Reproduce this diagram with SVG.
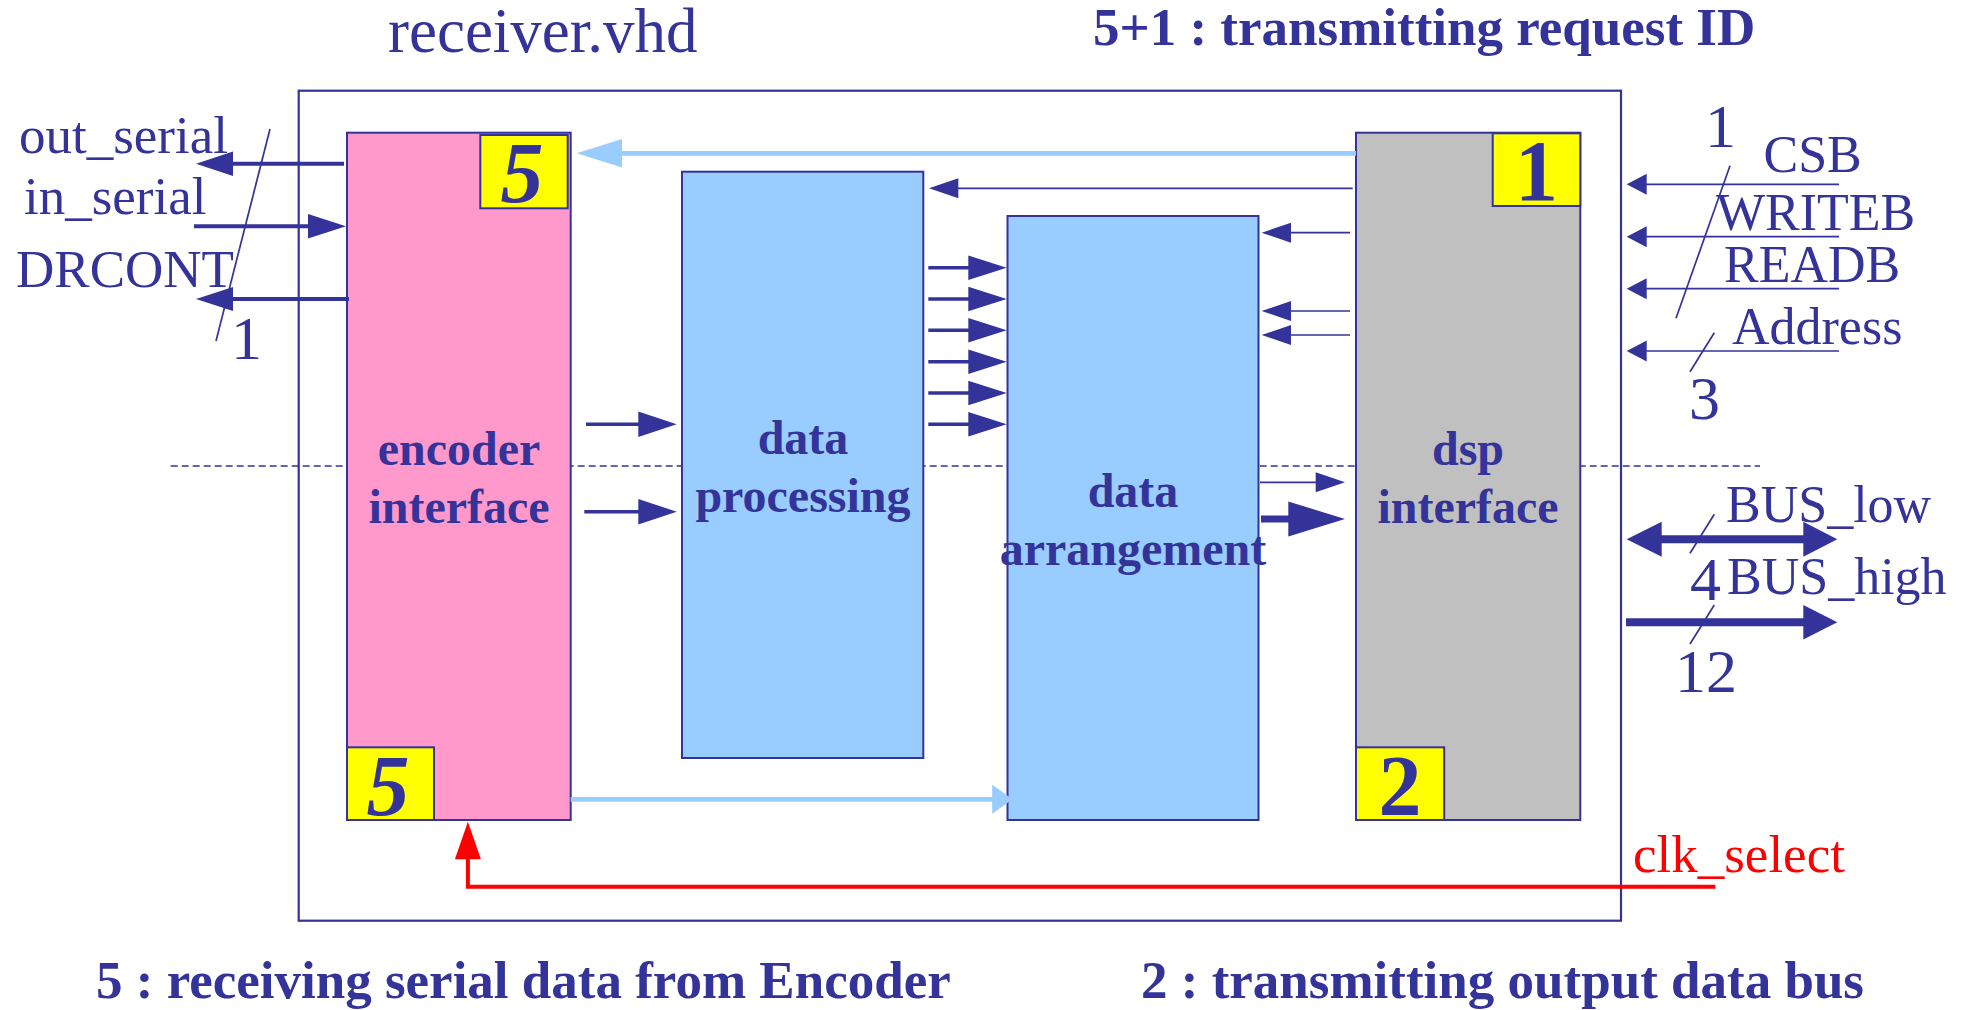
<svg xmlns="http://www.w3.org/2000/svg" width="1975" height="1010" viewBox="0 0 1975 1010">
<style>
.bx{stroke:#333399;stroke-width:2}
.pink{fill:#FF99CC}.lb{fill:#99CCFF}.gray{fill:#C0C0C0}.yel{fill:#FFFF00}
.t{font-family:"Liberation Serif","Times New Roman",serif;fill:#333399}
.lbl{font-size:53px}.rl{font-size:52px}.num{font-size:62px}
.b{font-weight:bold}
.blk{font-family:"Liberation Serif","Times New Roman",serif;font-weight:bold;font-size:48px;fill:#333399;text-anchor:middle}
.dig{font-family:"Liberation Serif","Times New Roman",serif;font-weight:bold;font-size:86px;fill:#333399;text-anchor:middle}
.ln{stroke:#333399;fill:none}
.thin{stroke-width:1.7}.med{stroke-width:3.4}.thk{stroke-width:8}
.hd{fill:#333399}
.lbl2{stroke:#99CCFF;stroke-width:4.7;fill:none}.lbh{fill:#99CCFF}
.red{stroke:#FF0000;stroke-width:4;fill:none}.rh{fill:#FF0000}
</style>
<rect width="1975" height="1010" fill="#FFFFFF"/>
<line x1="170.7" y1="466" x2="1760" y2="466" stroke="#333399" stroke-width="1.7" stroke-dasharray="7 4"/>
<g id="outer"><rect x="298.7" y="90.7" width="1322.3" height="830" fill="none" stroke="#333399" stroke-width="2.2"/></g>
<text class="t" x="388" y="52" font-size="63">receiver.vhd</text>
<text class="t b" x="1093" y="45" font-size="53">5+1 : transmitting request ID</text>
<text class="t b" x="96" y="998" font-size="53">5 : receiving serial data from Encoder</text>
<text class="t b" x="1141" y="998" font-size="53">2 : transmitting output data bus</text>
<g id="encoder">
<rect class="bx pink" x="347" y="132.7" width="223.7" height="687.3"/>
<rect class="bx yel" x="480.3" y="135" width="87.4" height="73.3"/>
<text class="dig" x="522" y="202" font-style="italic">5</text>
<rect class="bx yel" x="347" y="747.3" width="87" height="72.7"/>
<text class="dig" x="388" y="815" font-style="italic">5</text>
<text class="blk" x="459" y="465">encoder</text>
<text class="blk" x="459" y="522.7">interface</text>
</g>
<g id="dataproc">
<rect class="bx lb" x="682" y="171.7" width="241.3" height="586.3"/>
<text class="blk" x="803" y="454">data</text>
<text class="blk" x="803" y="511.7">processing</text>
</g>
<g id="dataarr">
<rect class="bx lb" x="1007.5" y="216" width="251" height="604"/>
<text class="blk" x="1133" y="506.7">data</text>
<text class="blk" x="1133" y="565">arrangement</text>
</g>
<g id="dsp">
<rect class="bx gray" x="1356" y="132.7" width="224.3" height="687.3"/>
<rect class="bx yel" x="1492.7" y="133.3" width="87.6" height="72.7"/>
<text class="dig" x="1536.5" y="200">1</text>
<rect class="bx yel" x="1356" y="747.3" width="88.2" height="72.7"/>
<text class="dig" x="1400" y="815">2</text>
<text class="blk" x="1468" y="465">dsp</text>
<text class="blk" x="1468" y="522.7">interface</text>
</g>
<g id="labels">
<text class="t lbl" x="19" y="153.3">out_serial</text>
<text class="t lbl" x="24" y="214.3">in_serial</text>
<text class="t lbl" x="16" y="287.3">DRCONT</text>
<text class="t num" x="231" y="359">1</text>
<text class="t num" x="1705" y="146.7">1</text>
<text class="t rl" x="1763.5" y="172.3">CSB</text>
<text class="t rl" x="1716" y="230">WRITEB</text>
<text class="t rl" x="1724" y="281.7">READB</text>
<text class="t rl" x="1732" y="344.3">Address</text>
<text class="t num" x="1689" y="419.3">3</text>
<text class="t rl" x="1726" y="521.7">BUS_low</text>
<text class="t num" x="1690" y="600">4</text>
<text class="t rl" x="1727" y="594.3">BUS_high</text>
<text class="t num" x="1675" y="691.7">12</text>
<text x="1633" y="871.7" font-family="'Liberation Serif','Times New Roman',serif" font-size="53" fill="#FF0000">clk_select</text>
</g>
<g id="connectors">
<line class="ln" x1="344" y1="163.7" x2="230" y2="163.7" stroke-width="4"/>
<polygon class="hd" points="196,163.7 233,151.5 233,176"/>
<line class="ln" x1="194" y1="226.3" x2="310" y2="226.3" stroke-width="4"/>
<polygon class="hd" points="346,226.3 308,214 308,238.5"/>
<line class="ln" x1="349" y1="299" x2="230" y2="299" stroke-width="4"/>
<polygon class="hd" points="196,299 233,287 233,311"/>
<line class="ln thin" x1="270" y1="129" x2="216" y2="341"/>
<line class="lbl2" x1="1356" y1="153.3" x2="618" y2="153.3"/>
<polygon class="lbh" points="576.7,153.3 622,139 622,167.6"/>
<line class="ln thin" x1="1352.7" y1="188.3" x2="955" y2="188.3"/>
<polygon class="hd" points="929,188.3 958.3,178.3 958.3,198.3"/>
<line class="ln thin" x1="1350" y1="232.7" x2="1288" y2="232.7"/>
<polygon class="hd" points="1261.7,232.7 1291,222.7 1291,242.7"/>
<line class="ln thin" x1="1350" y1="311" x2="1288" y2="311"/>
<polygon class="hd" points="1261.7,311 1291,301 1291,321"/>
<line class="ln thin" x1="1350" y1="335" x2="1288" y2="335"/>
<polygon class="hd" points="1261.7,335 1291,325 1291,345"/>
<line class="ln med" x1="586" y1="424.3" x2="640" y2="424.3"/>
<polygon class="hd" points="676.7,424.3 638.3,411.5 638.3,437.1"/>
<line class="ln med" x1="584.3" y1="511.7" x2="640" y2="511.7"/>
<polygon class="hd" points="676.7,511.7 638.3,498.9 638.3,524.5"/>
<line class="ln med" x1="928.3" y1="267.7" x2="970" y2="267.7"/>
<polygon class="hd" points="1006.7,267.7 968.3,255.4 968.3,280"/>
<line class="ln med" x1="928.3" y1="299" x2="970" y2="299"/>
<polygon class="hd" points="1006.7,299 968.3,286.7 968.3,311.3"/>
<line class="ln med" x1="928.3" y1="330.3" x2="970" y2="330.3"/>
<polygon class="hd" points="1006.7,330.3 968.3,318 968.3,342.6"/>
<line class="ln med" x1="928.3" y1="361.7" x2="970" y2="361.7"/>
<polygon class="hd" points="1006.7,361.7 968.3,349.4 968.3,374"/>
<line class="ln med" x1="928.3" y1="393" x2="970" y2="393"/>
<polygon class="hd" points="1006.7,393 968.3,380.7 968.3,405.3"/>
<line class="ln med" x1="928.3" y1="424.3" x2="970" y2="424.3"/>
<polygon class="hd" points="1006.7,424.3 968.3,412 968.3,436.6"/>
<line class="ln thin" x1="1260" y1="482.3" x2="1318" y2="482.3"/>
<polygon class="hd" points="1345,482.3 1315.7,472.3 1315.7,492.3"/>
<line class="ln" x1="1261" y1="519" x2="1291" y2="519" stroke-width="7"/>
<polygon class="hd" points="1345,519 1288.3,501.5 1288.3,536.5"/>
<line class="lbl2" x1="570.7" y1="799.3" x2="995" y2="799.3"/>
<polygon class="lbh" points="1012.6,799.3 992.2,784.8 992.2,813.8"/>
<polyline class="red" points="1715.4,886.7 467.9,886.7 467.9,856"/>
<polygon class="rh" points="467.9,821.7 454.9,859.3 480.9,859.3"/>
<line class="ln thin" x1="1839" y1="184.3" x2="1644" y2="184.3"/>
<polygon class="hd" points="1626.7,184.3 1646.7,173.8 1646.7,194.8"/>
<line class="ln thin" x1="1839" y1="236.7" x2="1644" y2="236.7"/>
<polygon class="hd" points="1626.7,236.7 1646.7,226.2 1646.7,247.2"/>
<line class="ln thin" x1="1839" y1="288.7" x2="1644" y2="288.7"/>
<polygon class="hd" points="1626.7,288.7 1646.7,278.2 1646.7,299.2"/>
<line class="ln thin" x1="1839" y1="351" x2="1644" y2="351"/>
<polygon class="hd" points="1626.7,351 1646.7,340.5 1646.7,361.5"/>
<line class="ln thin" x1="1730" y1="165.7" x2="1676" y2="318.3"/>
<line class="ln thin" x1="1714.3" y1="332.7" x2="1690" y2="371.7"/>
<line class="ln thk" x1="1658" y1="539.3" x2="1806" y2="539.3"/>
<polygon class="hd" points="1626.7,539.3 1661.7,521.8 1661.7,556.8"/>
<polygon class="hd" points="1837.3,539.3 1803.3,521.8 1803.3,556.8"/>
<line class="ln thin" x1="1714.3" y1="514.3" x2="1690" y2="553.3"/>
<line class="ln thk" x1="1626" y1="622.3" x2="1806" y2="622.3"/>
<polygon class="hd" points="1837.3,622.3 1803.3,605 1803.3,639.6"/>
<line class="ln thin" x1="1714.3" y1="605" x2="1690" y2="644"/>
</g>
</svg>
